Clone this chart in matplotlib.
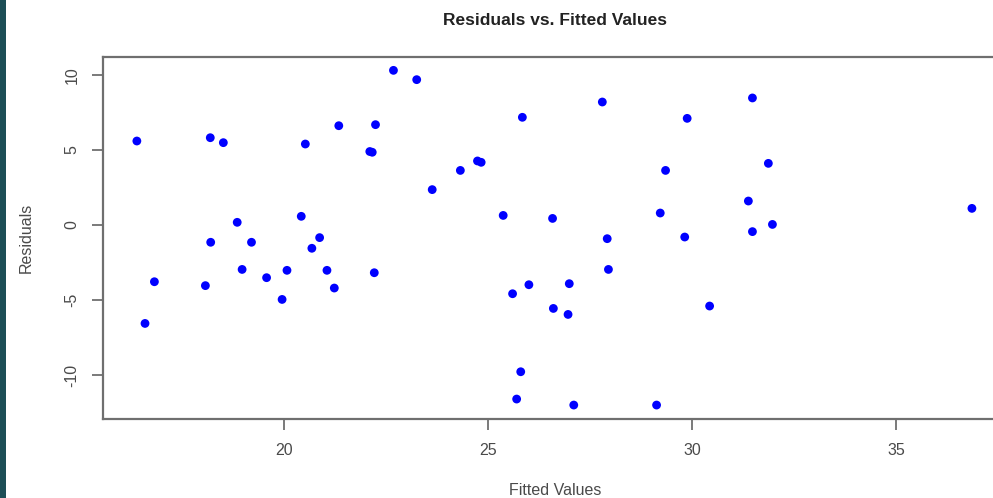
import matplotlib
matplotlib.use("Agg")
import matplotlib.pyplot as plt
from matplotlib.patches import Rectangle

plt.rcParams['font.family'] = ['Liberation Sans', 'DejaVu Sans']

# fitted values and residuals
fitted = [16.39, 18.19, 18.51, 18.85, 18.20, 19.20, 20.42, 20.52, 21.34, 22.10,
          22.16, 22.24, 22.68, 23.25, 23.63, 24.32, 24.74, 24.83, 20.68, 20.87,
          16.82, 16.59, 18.07, 18.97, 19.57, 19.95, 20.07, 21.05, 21.23, 22.21,
          25.84, 27.80, 29.88, 31.48, 29.35, 31.87, 31.38, 36.86, 25.37, 26.58,
          29.22, 27.92, 29.82, 31.48, 31.97,
          25.60, 26.00, 26.99, 27.95, 26.60, 26.96, 30.43, 25.80, 25.70, 27.10,
          29.13]
resid = [5.60, 5.82, 5.49, 0.18, -1.15, -1.15, 0.58, 5.40, 6.62, 4.90,
         4.85, 6.69, 10.31, 9.69, 2.36, 3.64, 4.27, 4.18, -1.55, -0.84,
         -3.78, -6.56, -4.04, -2.96, -3.51, -4.96, -3.02, -3.02, -4.20, -3.18,
         7.18, 8.20, 7.11, 8.47, 3.64, 4.11, 1.60, 1.11, 0.64, 0.44,
         0.80, -0.91, -0.80, -0.44, 0.04,
         -4.58, -3.98, -3.91, -2.96, -5.56, -5.96, -5.40, -9.78, -11.60, -12.00,
         -12.00]

xticks = [20, 25, 30, 35]
yticks = [-10, -5, 0, 5, 10]

W, H = 993, 498
fig = plt.figure(figsize=(W / 100, H / 100), dpi=100)

# teal strip on the left edge
fig.patches.append(Rectangle((0, 0), 6 / W, 1, transform=fig.transFigure,
                             facecolor='#1d4e56', edgecolor='none'))

# plot region, right edge falls just outside the picture
l, r, t, b = 103, 1007, 57, 419
ax = fig.add_axes([l / W, 1 - b / H, (r - l) / W, (b - t) / H])

ax.scatter(fitted, resid, s=40, color='#0000ff', edgecolors='none', zorder=3)

ax.set_xlim(15.56, 37.72)
ax.set_ylim(-12.93, 11.2)
ax.set_xticks(xticks)
ax.set_yticks(yticks)
ax.set_yticklabels([str(v) for v in yticks], rotation=90, va='center')

gray = '#6f6f6f'
for s in ax.spines.values():
    s.set_color(gray)
    s.set_linewidth(1.6)
ax.tick_params(axis='both', colors=gray, labelcolor='#4a4a4a', length=8,
               width=1.3, labelsize=11.5)
ax.tick_params(axis='x', pad=9)
ax.tick_params(axis='y', pad=9)

ax.set_xlabel('Fitted Values', fontsize=11.5, color='#4a4a4a', labelpad=18)
ax.set_ylabel('Residuals', fontsize=11.5, color='#4a4a4a', labelpad=22)
ax.set_title('Residuals vs. Fitted Values', fontsize=12.5, fontweight='bold',
             color='#222222', pad=23)

fig.savefig('out.png', dpi=100)
